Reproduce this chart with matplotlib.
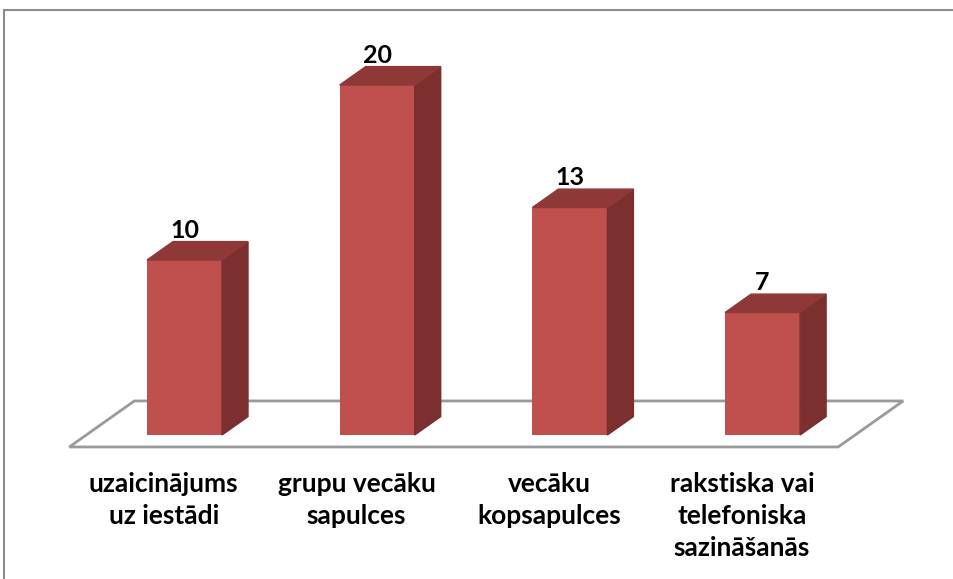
import numpy as np
import matplotlib.pyplot as plt
from matplotlib.patches import Polygon, Rectangle

# dữ liệu
categories = ["uzaicinājums\nuz iestādi", "grupu vecāku\nsapulces",
              "vecāku\nkopsapulces", "rakstiska vai\ntelefoniska\nsazināšanās"]
values = [10, 20, 13, 7]

front = "#C0504D"
top = "#8E3937"
side = "#7B2F2E"

fig = plt.figure(figsize=(9.54, 5.79), dpi=100)
ax = fig.add_axes([0, 0, 1, 1])
# scale: 1 category = 192.7 px, 1 unit = 17.5 px
ax.set_xlim(-184.5 / 192.7, (954 - 184.5) / 192.7)
ax.set_ylim((435 - 579) / 17.5, 435 / 17.5)
ax.axis("off")

# oblique depth direction (per unit depth) in data units
ddx = 65 / 192.7
ddy = 46 / 17.5
w = 75 / 192.7
d0, d1 = -0.26, 0.74   # floor front/back relative to bar front plane
bd = 0.4               # bar depth

n = len(values)
x = np.arange(n)

# floor
fl = -0.51
fr = n - 0.52
floor = [(fl + d0 * ddx, d0 * ddy), (fr + d0 * ddx, d0 * ddy),
         (fr + d1 * ddx, d1 * ddy), (fl + d1 * ddx, d1 * ddy)]
ax.add_patch(Polygon(floor, closed=True, fill=False, ec="#9a9a9a", lw=2, zorder=1))

for xi, v in zip(x, values):
    l, r = xi - w / 2, xi + w / 2
    ax.bar(xi, v, width=w, color=front, zorder=3)
    ax.add_patch(Polygon([(r, 0), (r + bd * ddx, bd * ddy), (r + bd * ddx, v + bd * ddy), (r, v)],
                         closed=True, color=side, zorder=3))
    ax.add_patch(Polygon([(l, v), (r, v), (r + bd * ddx, v + bd * ddy), (l + bd * ddx, v + bd * ddy)],
                         closed=True, color=top, zorder=3))
    ax.text(xi, v + bd * ddy, str(v), ha="center", va="bottom",
            fontsize=18, fontweight="bold", family="Lato", zorder=4)

for xi, c in zip(x, categories):
    ax.text(xi + d0 * ddx - 0.02, d0 * ddy - 1.45, c, ha="center", va="top",
            fontsize=19, fontweight="bold", family="Lato", linespacing=1.4)

# khung ngoài
fig.patches.append(Rectangle((4 / 954, -0.05), 1.1, (579 - 10) / 579 + 0.05,
                             transform=fig.transFigure, fill=False, ec="#8c8c8c", lw=1.5))

plt.savefig("out.png", dpi=100)
